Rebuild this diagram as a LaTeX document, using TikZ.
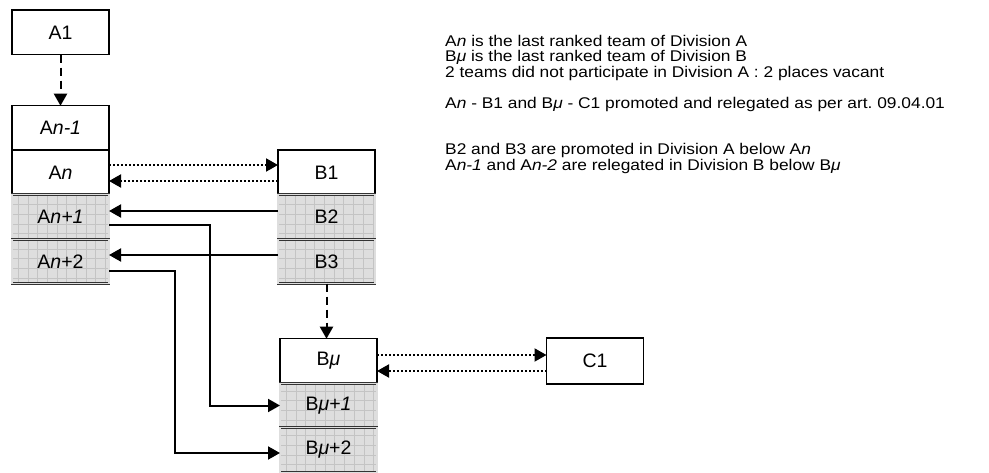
\documentclass[tikz,border=0pt]{standalone}
\usepackage{fontspec}
\setmainfont{Liberation Sans}
\newfontfamily\notefont[FakeStretch=1.12]{Liberation Sans}
\usepackage{tikz}
\usetikzlibrary{arrows.meta,positioning,calc}
\definecolor{cellGray}{HTML}{DEDEDE}
\definecolor{gridGray}{HTML}{C4C4C4}
\definecolor{rimDark}{HTML}{333333}
\frenchspacing

\tikzset{
  teambox/.style={draw=black, line width=1.5pt, fill=white, inner sep=0pt, outer sep=0pt,
    minimum width=97pt, minimum height=44.5pt, font=\fontsize{19.5}{24}\selectfont},
  movedbox/.style={teambox, fill=cellGray, draw=rimDark, line width=0.8pt,
    double=cellGray, double distance=1.2pt,
    path picture={\draw[gridGray, line width=0.4pt, step=9.7pt]
      (path picture bounding box.south west) grid (path picture bounding box.north east);}},
  link/.style={-{Triangle[length=12pt,width=13pt]}, line width=2pt},
  dotlink/.style={link, dash pattern=on 2pt off 2pt},
  dashlink/.style={link, dash pattern=on 8pt off 5pt}
}

\begin{document}
\begin{tikzpicture}[x=1pt, y=-1pt]
  \useasboundingbox (0,0) rectangle (989,473);

  % division A
  \node[teambox] (A1) at (60.5,32.5) {A1};
  \node[teambox] (Anm1) at (60.5,128) {A\textit{n-1}};
  \node[teambox, below=0pt of Anm1] (An) {A\textit{n}};
  \node[movedbox, below=0pt of An] (Anp1) {A\textit{n+1}};
  \node[movedbox, below=0pt of Anp1] (Anp2) {A\textit{n}+2};

  % division B
  \node[teambox, right=169pt of An] (B1) {B1};
  \node[movedbox, below=0pt of B1] (B2) {B2};
  \node[movedbox, below=0pt of B2] (B3) {B3};
  \node[teambox, below=55pt of B3, xshift=2pt] (Bmu) {B\textit{μ}};
  \node[movedbox, below=0pt of Bmu] (Bmp1) {B\textit{μ+1}};
  \node[movedbox, below=0pt of Bmp1] (Bmp2) {B\textit{μ}+2};

  % division C
  \node[teambox, minimum height=46pt, right=169.5pt of Bmu] (C1) {C1};

  \draw[dashlink] (A1) -- (Anm1);
  \draw[dashlink] (B3.south) -- (B3.south |- Bmu.north);

  \draw[dotlink] ([yshift=7.5pt]An.east) -- ([yshift=7.5pt]An.east -| B1.west);
  \draw[dotlink] ([yshift=-8.5pt]An.east -| B1.west) -- ([yshift=-8.5pt]An.east);
  \draw[dotlink] ([yshift=6pt]Bmu.east) -- ([yshift=6pt]Bmu.east -| C1.west);
  \draw[dotlink] ([yshift=-10pt]Bmu.east -| C1.west) -- ([yshift=-10pt]Bmu.east);

  \draw[link] ([yshift=6pt]B2.west) -- ([yshift=6pt]B2.west -| Anp1.east);
  \draw[link] ([yshift=6.5pt]B3.west) -- ([yshift=6.5pt]B3.west -| Anp2.east);
  \draw[link] ([yshift=-8pt]Anp1.east) -| ([xshift=-70pt]Bmp1.west) -- (Bmp1.west);
  \draw[link] ([yshift=-9.5pt]Anp2.east) -| ([xshift=-105pt,yshift=-3pt]Bmp2.west)
    -- ([yshift=-3pt]Bmp2.west);

  \node[anchor=north west, inner sep=0pt, align=left, font=\notefont\fontsize{15.5}{15.8}\selectfont]
    (notes) at (445,34.6) {A\textit{n} is the last ranked team of Division A\\
    B\textit{μ} is the last ranked team of Division B\\
    2 teams did not participate in Division A : 2 places vacant\\[15.2pt]
    A\textit{n} - B1 and B\textit{μ} - C1 promoted and relegated as per art. 09.04.01\\[30.5pt]
    B2 and B3 are promoted in Division A below A\textit{n}\\
    A\textit{n-1} and A\textit{n-2} are relegated in Division B below B\textit{μ}};
\end{tikzpicture}
\end{document}
